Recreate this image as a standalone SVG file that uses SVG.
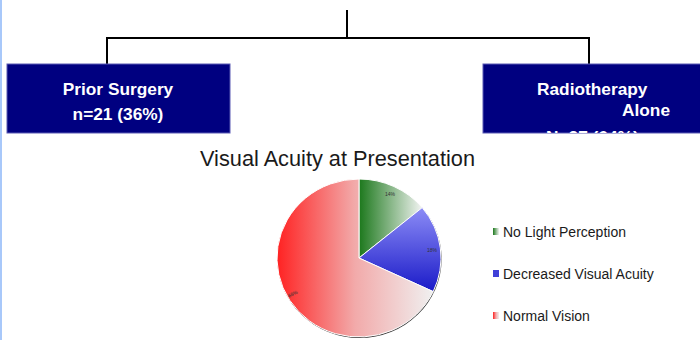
<svg xmlns="http://www.w3.org/2000/svg" width="700" height="340" viewBox="0 0 700 340">
  <style>
    .box { fill: #000080; stroke: #5a5ab4; stroke-width: 1; }
    .boxtxt { fill: #ffffff; font-family: "Liberation Sans", Arial, sans-serif; font-weight: bold; font-size: 17.3px; }
    .conn { stroke: #000000; stroke-width: 2; fill: none; }
    .title { fill: #1a1a1a; font-family: "Liberation Sans", Arial, sans-serif; font-size: 21.5px; }
    .leg { fill: #1a1a1a; font-family: "Liberation Sans", Arial, sans-serif; font-size: 14px; }
    .pct { fill: #333333; font-family: "Liberation Sans", Arial, sans-serif; font-size: 5px; }
    .slice { stroke: #ffffff; stroke-width: 1; }
  </style>
  <defs>
    <linearGradient id="gGreen" x1="0" y1="0" x2="1" y2="0">
      <stop offset="0" stop-color="#1c781c"/>
      <stop offset="1" stop-color="#f2f4f2"/>
    </linearGradient>
    <linearGradient id="gBlue" x1="0" y1="0" x2="0" y2="1">
      <stop offset="0" stop-color="#8c8cf6"/>
      <stop offset="1" stop-color="#1a1ac8"/>
    </linearGradient>
    <linearGradient id="gRed" x1="0" y1="0" x2="1" y2="0">
      <stop offset="0" stop-color="#ff2222"/>
      <stop offset="0.5" stop-color="#f2aaaa"/>
      <stop offset="1" stop-color="#f0f0f0"/>
    </linearGradient>
    <clipPath id="clipRight">
      <rect x="483" y="64" width="217" height="69"/>
    </clipPath>
  </defs>

  <rect x="0" y="0" width="700" height="340" fill="#ffffff"/>
  <rect x="0" y="0" width="2" height="340" fill="#a8c8fa"/>

  <g id="connectors">
    <path class="conn" d="M347,10 V38"/>
    <path class="conn" d="M107,64 V38 H589 V64"/>
  </g>

  <g id="prior-surgery">
    <rect class="box" x="7" y="64" width="223" height="69"/>
    <text class="boxtxt" x="118" y="95" text-anchor="middle">Prior Surgery</text>
    <text class="boxtxt" x="118" y="120" text-anchor="middle">n=21 (36%)</text>
  </g>

  <g id="radiotherapy">
    <rect class="box" x="483" y="64" width="220" height="69"/>
    <g clip-path="url(#clipRight)">
      <text class="boxtxt" x="537" y="95">Radiotherapy</text>
      <text class="boxtxt" x="622" y="116">Alone</text>
      <text class="boxtxt" x="546" y="143">N=27 (64%)</text>
    </g>
  </g>

  <g id="chart">
    <text class="title" x="200" y="166" textLength="275" lengthAdjust="spacingAndGlyphs">Visual Acuity at Presentation</text>
    <ellipse cx="359.6" cy="259" rx="82" ry="79" fill="#3a3a3a"/>
    <path class="slice" fill="url(#gGreen)" d="M359,258 L359,179 A82,79 0 0 1 422.2,207.6 Z"/>
    <path class="slice" fill="url(#gBlue)" d="M359,258 L422.2,207.6 A82,79 0 0 1 433.2,291.6 Z"/>
    <path class="slice" fill="url(#gRed)" d="M359,258 L433.2,291.6 A82,79 0 1 1 359,179 Z"/>
    <text class="pct" x="385" y="196">14%</text>
    <text class="pct" x="427" y="252">18%</text>
    <text class="pct" x="288" y="297" transform="rotate(-25 290 295)">68%</text>

    <rect x="493" y="228" width="6" height="7" fill="url(#gGreen)"/>
    <text class="leg" x="503" y="237">No Light Perception</text>
    <rect x="493" y="270" width="6" height="7" fill="#4040d8"/>
    <text class="leg" x="503" y="279">Decreased Visual Acuity</text>
    <rect x="493" y="312" width="6" height="7" fill="url(#gRed)"/>
    <text class="leg" x="503" y="321">Normal Vision</text>
  </g>
</svg>
